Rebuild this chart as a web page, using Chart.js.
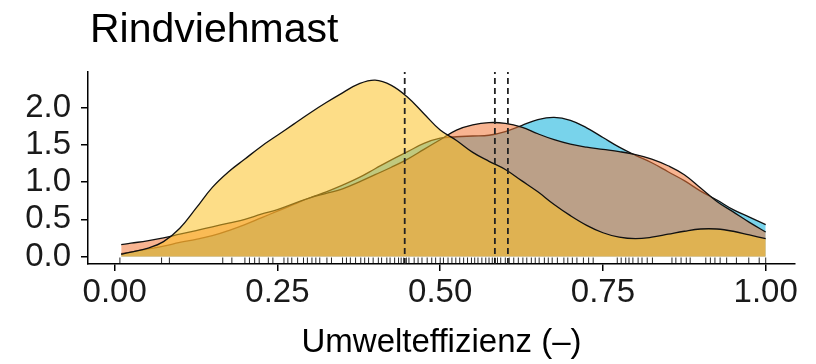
<!DOCTYPE html>
<html>
<head>
<meta charset="utf-8">
<script src="https://cdn.jsdelivr.net/npm/chart.js@4.4.1/dist/chart.umd.min.js"></script>
<style>
  html, body { margin: 0; padding: 0; background: #fff; }
  #wrap { width: 816px; height: 364px; }
</style>
</head>
<body>
<div id="wrap"><canvas id="grafico" width="816" height="364"></canvas></div>
<script>
// Werte
const titel = "Rindviehmast";
const achsenTitel = "Umwelteffizienz (–)";

const effizienz = [0.01, 0.025, 0.05, 0.075, 0.1, 0.125, 0.15, 0.175, 0.2, 0.225, 0.25, 0.275, 0.3, 0.325, 0.35, 0.375, 0.4, 0.425, 0.45, 0.475, 0.5, 0.525, 0.55, 0.575, 0.6, 0.625, 0.65, 0.675, 0.7, 0.725, 0.75, 0.775, 0.8, 0.825, 0.85, 0.875, 0.9, 0.925, 0.95, 0.975, 1.0];

const dichteBlau = [0.04, 0.06, 0.10, 0.14, 0.19, 0.23, 0.28, 0.35, 0.43, 0.52, 0.61, 0.70, 0.79, 0.87, 0.96, 1.06, 1.18, 1.30, 1.41, 1.52, 1.59, 1.61, 1.62, 1.63, 1.68, 1.76, 1.84, 1.87, 1.83, 1.73, 1.60, 1.47, 1.36, 1.26, 1.14, 1.02, 0.88, 0.76, 0.63, 0.53, 0.43];

const dichteLachs = [0.16, 0.18, 0.21, 0.25, 0.30, 0.35, 0.40, 0.45, 0.50, 0.57, 0.63, 0.71, 0.79, 0.85, 0.91, 1.00, 1.10, 1.20, 1.31, 1.44, 1.57, 1.70, 1.77, 1.80, 1.79, 1.74, 1.65, 1.57, 1.51, 1.47, 1.44, 1.41, 1.37, 1.31, 1.22, 1.10, 0.92, 0.74, 0.60, 0.46, 0.33];

const dichteGelb = [0.03, 0.06, 0.11, 0.20, 0.38, 0.65, 0.93, 1.14, 1.31, 1.48, 1.63, 1.78, 1.93, 2.07, 2.20, 2.32, 2.37, 2.30, 2.14, 1.92, 1.70, 1.56, 1.40, 1.28, 1.17, 1.02, 0.87, 0.70, 0.55, 0.42, 0.32, 0.26, 0.24, 0.26, 0.30, 0.34, 0.37, 0.37, 0.34, 0.29, 0.24];

// Mediane (gestrichelte Linien)
const mediane = [0.4455, 0.584, 0.604];

// Einzelbeobachtungen (Rug)
const beobachtungen = [0.008, 0.072, 0.084, 0.166, 0.18, 0.2, 0.207, 0.215, 0.222, 0.236, 0.243, 0.26, 0.266, 0.272, 0.281, 0.29, 0.296, 0.303, 0.309, 0.315, 0.326, 0.333, 0.35, 0.356, 0.362, 0.37, 0.378, 0.384, 0.39, 0.397, 0.405, 0.41, 0.418, 0.423, 0.43, 0.436, 0.44, 0.444, 0.448, 0.452, 0.46, 0.466, 0.472, 0.48, 0.487, 0.493, 0.5, 0.505, 0.512, 0.518, 0.524, 0.53, 0.536, 0.542, 0.548, 0.553, 0.558, 0.564, 0.57, 0.575, 0.58, 0.584, 0.588, 0.593, 0.6, 0.606, 0.613, 0.62, 0.627, 0.633, 0.64, 0.646, 0.652, 0.66, 0.666, 0.672, 0.68, 0.69, 0.696, 0.703, 0.71, 0.72, 0.728, 0.735, 0.772, 0.778, 0.785, 0.79, 0.796, 0.804, 0.81, 0.818, 0.826, 0.856, 0.862, 0.87, 0.878, 0.884, 0.908, 0.915, 0.922, 0.93, 0.94, 0.955, 0.974, 0.99, 1.0];

const xTicks = [0, 0.25, 0.5, 0.75, 1.0];
const yTicks = [0, 0.5, 1.0, 1.5, 2.0];

const schrift = "'Liberation Sans', Arial, Helvetica, sans-serif";

function punkte(werte) {
    return effizienz.map((x, i) => ({ x: x, y: werte[i] }));
}

function dichteDataset(werte, farbe, ordnung) {
    return {
        type: 'line',
        data: punkte(werte),
        backgroundColor: farbe,
        borderColor: '#111',
        borderWidth: 1.3,
        fill: 'origin',
        tension: 0.4,
        pointRadius: 0,
        order: ordnung,
    };
}

const medianDatasets = mediane.map(m => ({
    type: 'line',
    data: [{ x: m, y: -0.1 }, { x: m, y: 2.48 }],
    borderColor: '#222',
    borderWidth: 1.8,
    borderDash: [6, 4],
    pointRadius: 0,
    fill: false,
    order: 1,
}));

const rugDataset = {
    type: 'scatter',
    data: beobachtungen.map(b => ({ x: b, y: -0.053 })),
    pointStyle: 'line',
    rotation: 90,
    radius: 3,
    borderColor: 'rgba(0,0,0,0.85)',
    borderWidth: 1,
    order: 0,
};

// Titel links buendig zur Zeichenflaeche
const titelPlugin = {
    id: 'titelPlugin',
    afterDraw(chart) {
        const ctx = chart.ctx;
        ctx.save();
        ctx.font = "41px " + schrift;
        ctx.fillStyle = '#000';
        ctx.textAlign = 'left';
        ctx.textBaseline = 'alphabetic';
        ctx.fillText(titel, chart.chartArea.left + 2, 42);
        ctx.restore();
    }
};

new Chart(document.getElementById('grafico').getContext('2d'), {
    data: {
        datasets: [
            dichteDataset(dichteBlau, 'rgba(10,174,218,0.55)', 5),
            dichteDataset(dichteLachs, 'rgba(242,119,55,0.55)', 4),
            dichteDataset(dichteGelb, 'rgba(251,193,37,0.55)', 3),
            ...medianDatasets,
            rugDataset,
        ]
    },
    options: {
        responsive: false,
        animation: false,
        layout: { padding: { left: 0, right: 21, top: 72, bottom: 0 } },
        plugins: {
            legend: { display: false },
            tooltip: { enabled: false },
        },
        scales: {
            x: {
                type: 'linear',
                min: -0.041,
                max: 1.045,
                afterFit: s => { s.height = 100; },
                afterBuildTicks: s => { s.ticks = xTicks.map(v => ({ value: v })); },
                ticks: {
                    callback: v => v.toFixed(2),
                    font: { family: schrift, size: 33 },
                    color: '#1a1a1a',
                    padding: 2,
                    maxRotation: 0,
                },
                grid: { drawOnChartArea: false, drawTicks: true, tickLength: 7, color: '#000', lineWidth: 1.5 },
                border: { display: true, color: '#000', width: 1.5 },
                title: {
                    display: true,
                    text: achsenTitel,
                    font: { family: schrift, size: 33 },
                    color: '#000',
                    padding: { top: 0, bottom: 1 },
                },
            },
            y: {
                type: 'linear',
                min: -0.1,
                max: 2.48,
                afterFit: s => { s.width = 88; },
                afterBuildTicks: s => { s.ticks = yTicks.map(v => ({ value: v })); },
                ticks: {
                    callback: v => v.toFixed(1),
                    font: { family: schrift, size: 33 },
                    color: '#1a1a1a',
                    padding: 10,
                },
                grid: { drawOnChartArea: false, drawTicks: true, tickLength: 7, color: '#000', lineWidth: 1.5 },
                border: { display: true, color: '#000', width: 1.5 },
            },
        },
    },
    plugins: [titelPlugin],
});
</script>
</body>
</html>
